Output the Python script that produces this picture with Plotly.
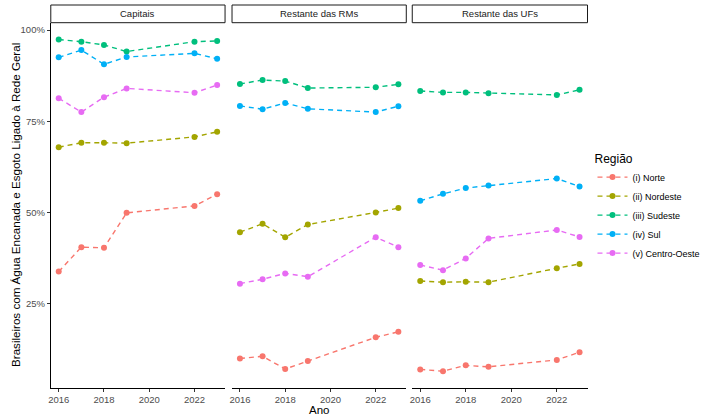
import plotly.graph_objects as go

years = [2016, 2017, 2018, 2019, 2022, 2023]
panels = ["Capitais", "Restante das RMs", "Restante das UFs"]
regions = ["(i) Norte", "(ii) Nordeste", "(iii) Sudeste", "(iv) Sul", "(v) Centro-Oeste"]
colors = ["#F8766D", "#A3A500", "#00BF7D", "#00B0F6", "#E76BF3"]

# values in % per panel, per region
capitais_norte = [33.8, 40.5, 40.3, 49.9, 51.8, 55.0]
capitais_nordeste = [67.9, 69.1, 69.1, 69.0, 70.7, 72.1]
capitais_sudeste = [97.4, 96.8, 95.9, 94.1, 96.8, 97.0]
capitais_sul = [92.5, 94.5, 90.6, 92.6, 93.6, 92.1]
capitais_co = [81.3, 77.5, 81.6, 84.0, 82.8, 84.9]

rms_norte = [10.0, 10.6, 7.1, 9.3, 15.8, 17.3]
rms_nordeste = [44.6, 46.9, 43.2, 46.7, 50.0, 51.2]
rms_sudeste = [85.2, 86.3, 86.0, 84.1, 84.3, 85.1]
rms_sul = [79.2, 78.3, 80.0, 78.4, 77.5, 79.1]
rms_co = [30.5, 31.7, 33.3, 32.4, 43.2, 40.5]

ufs_norte = [7.0, 6.5, 8.1, 7.7, 9.6, 11.7]
ufs_nordeste = [31.2, 30.9, 31.0, 30.9, 34.7, 35.9]
ufs_sudeste = [83.3, 82.9, 82.9, 82.7, 82.2, 83.6]
ufs_sul = [53.2, 55.1, 56.7, 57.4, 59.3, 57.1]
ufs_co = [35.6, 34.2, 37.4, 42.9, 45.2, 43.3]

y_ticks = [25, 50, 75, 100]
y_tick_labels = ["25%", "50%", "75%", "100%"]
x_ticks = [2016, 2018, 2020, 2022]

data = [
    [capitais_norte, capitais_nordeste, capitais_sudeste, capitais_sul, capitais_co],
    [rms_norte, rms_nordeste, rms_sudeste, rms_sul, rms_co],
    [ufs_norte, ufs_nordeste, ufs_sudeste, ufs_sul, ufs_co],
]

W, H = 707, 417
FONT = "Liberation Sans, Arial, sans-serif"

def px(x):
    return x / W

def py(y):
    return 1 - y / H

panel_px = [(48, 223), (230, 405), (411, 587)]
top_px, bot_px = 22.7, 388
strip_top = 5

fig = go.Figure()
for p in range(3):
    xa = "x" if p == 0 else f"x{p+1}"
    for r in range(5):
        fig.add_trace(go.Scatter(
            x=years, y=data[p][r], mode="lines+markers",
            name=regions[r], legendgroup=regions[r], showlegend=(p == 0),
            line=dict(color=colors[r], width=1.4, dash="5px,4px"),
            marker=dict(color=colors[r], size=6),
            xaxis=xa, yaxis="y",
        ))

layout = dict(
    width=W, height=H,
    margin=dict(l=0, r=0, t=0, b=0),
    paper_bgcolor="white", plot_bgcolor="white",
    font=dict(family=FONT, color="#4D4D4D", size=9),
    yaxis=dict(
        domain=[py(bot_px), py(top_px)], range=[1.9, 102.0],
        tickvals=y_ticks, ticktext=y_tick_labels,
        showgrid=False, zeroline=False,
        showline=True, linecolor="black", linewidth=1,
        ticks="outside", ticklen=3, tickcolor="#333333",
        tickfont=dict(size=9.5, color="#4D4D4D", family=FONT),
        anchor="x",
    ),
    shapes=[], annotations=[],
)
for p in range(3):
    key = "xaxis" if p == 0 else f"xaxis{p+1}"
    layout[key] = dict(
        domain=[px(panel_px[p][0]), px(panel_px[p][1])],
        range=[2015.65, 2023.35],
        tickvals=x_ticks, ticktext=[str(v) for v in x_ticks],
        showgrid=False, zeroline=False,
        showline=True, linecolor="black", linewidth=1,
        ticks="outside", ticklen=2.5, tickcolor="#333333",
        tickfont=dict(size=9.5, color="#4D4D4D", family=FONT),
        anchor="y",
    )
    layout["shapes"].append(dict(
        type="rect", xref="paper", yref="paper",
        x0=px(panel_px[p][0]), x1=px(panel_px[p][1]),
        y0=py(top_px), y1=py(strip_top),
        line=dict(color="#1A1A1A", width=1), fillcolor="white",
    ))
    layout["annotations"].append(dict(
        text=panels[p], xref="paper", yref="paper",
        x=px((panel_px[p][0] + panel_px[p][1]) / 2), y=py((top_px + strip_top) / 2),
        showarrow=False, font=dict(size=9.5, color="#1A1A1A", family=FONT),
        xanchor="center", yanchor="middle",
    ))

layout["annotations"].append(dict(
    text="Ano", xref="paper", yref="paper",
    x=px(317.5), y=py(410), showarrow=False,
    font=dict(size=11.5, color="black", family=FONT),
    xanchor="center", yanchor="middle",
))
layout["annotations"].append(dict(
    text="Brasileiros com Água Encanada e Esgoto Ligado à Rede Geral",
    xref="paper", yref="paper", x=px(12), y=py(205), textangle=-90,
    showarrow=False, font=dict(size=11.6, color="black", family=FONT),
    xanchor="center", yanchor="middle",
))
layout["legend"] = dict(
    title=dict(text="Região", font=dict(size=12, color="black", family=FONT)),
    font=dict(size=9, color="black", family=FONT),
    x=px(592), y=py(147), xanchor="left", yanchor="top",
    bgcolor="rgba(0,0,0,0)", itemwidth=30, tracegroupgap=0,
)

fig.update_layout(**layout)
fig.write_html("out.html", config={"displayModeBar": False},
               post_script="document.body.style.margin='0px';")
